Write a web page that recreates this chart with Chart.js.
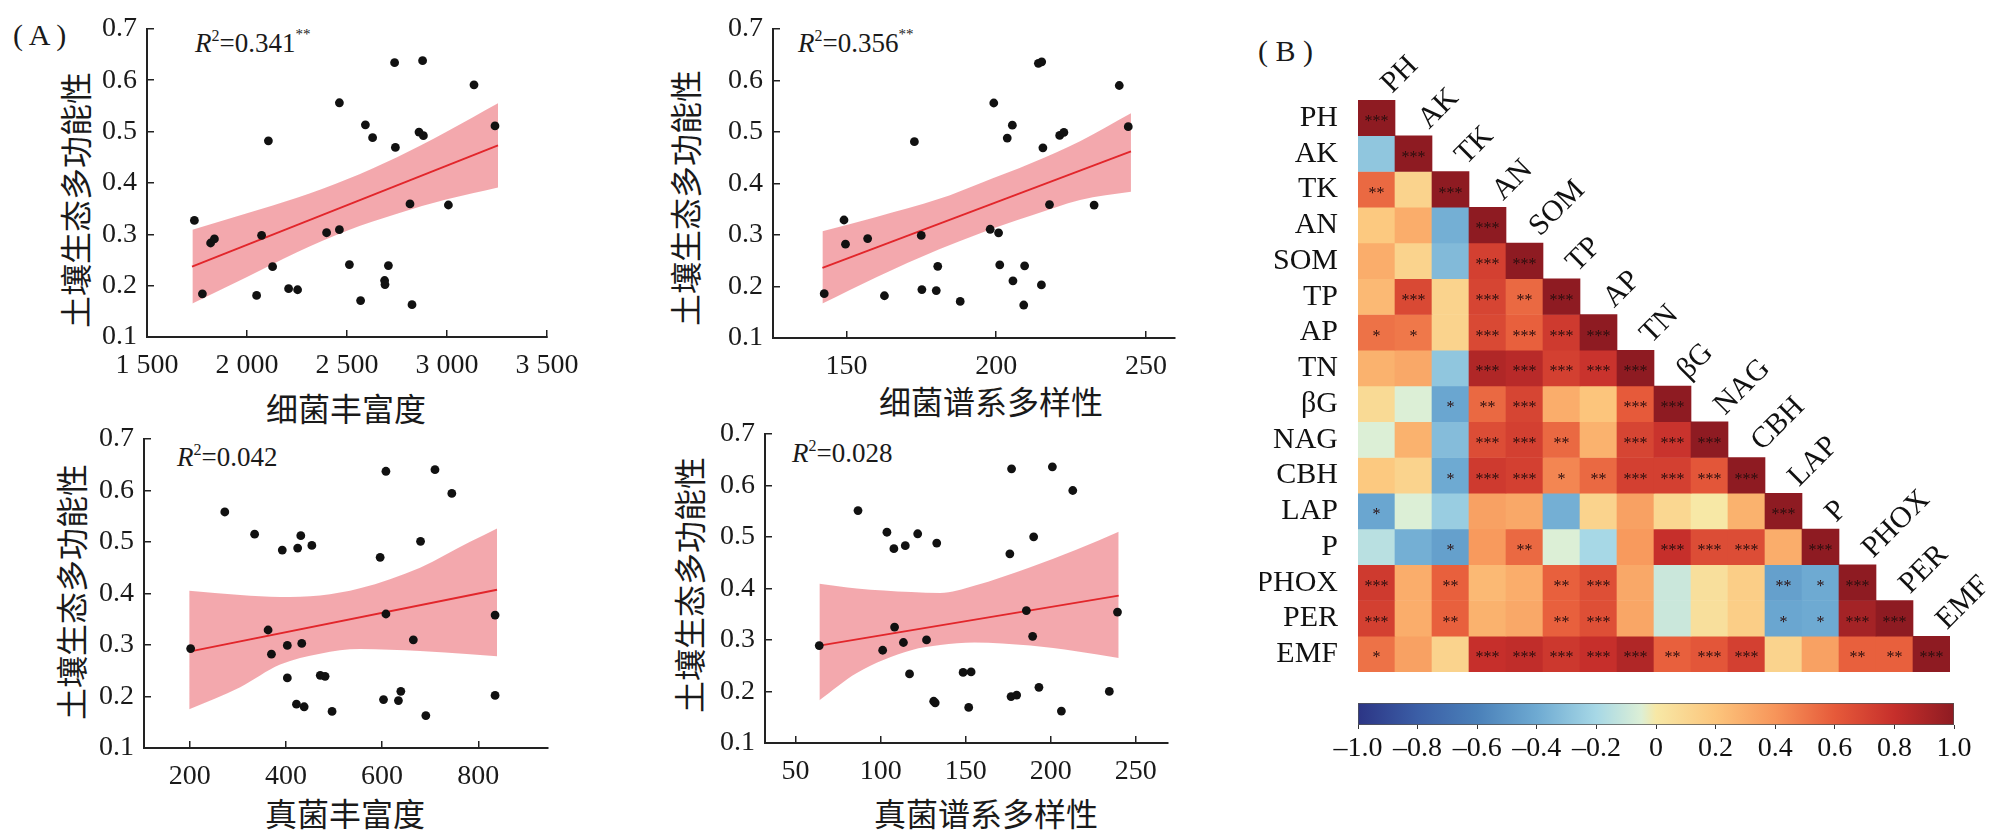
<!DOCTYPE html>
<html><head><meta charset="utf-8">
<script src="https://cdn.jsdelivr.net/npm/chart.js@4.4.0/dist/chart.umd.min.js"></script>
<style>
html,body{margin:0;padding:0;background:#fff;}
#wrap{position:relative;width:1994px;height:835px;overflow:hidden;background:#fff;}
canvas{position:absolute;}
.t{position:absolute;white-space:nowrap;color:#1a1a1a;line-height:1;}
.cjk{font-family:"Noto Sans CJK SC","Liberation Serif",serif;font-size:32px;}
.yt{transform:translate(-50%,-50%) rotate(-90deg);}
.xt{transform:translate(-50%,-50%);}
.r2{font-family:"Liberation Serif",serif;font-size:27px;}
.r2 sup{font-size:16px;vertical-align:baseline;position:relative;top:-11px;}
.r2 sup.st{font-size:15px;top:-13px;}
.lab{font-family:"Liberation Serif",serif;font-size:30px;}
</style></head>
<body><div id="wrap">
<div class="t lab" style="left:13px;top:20px">( A )</div>
<div class="t lab" style="left:1258px;top:36px">( B )</div>

<div class="t r2" style="left:195px;top:30px"><i>R</i><sup>2</sup>=0.341<sup class="st">**</sup></div>
<div class="t r2" style="left:798px;top:30px"><i>R</i><sup>2</sup>=0.356<sup class="st">**</sup></div>
<div class="t r2" style="left:177px;top:444px"><i>R</i><sup>2</sup>=0.042</div>
<div class="t r2" style="left:792px;top:440px"><i>R</i><sup>2</sup>=0.028</div>

<div class="t cjk yt" style="left:74px;top:200px">土壤生态多功能性</div>
<div class="t cjk yt" style="left:684px;top:198px">土壤生态多功能性</div>
<div class="t cjk yt" style="left:70px;top:592px">土壤生态多功能性</div>
<div class="t cjk yt" style="left:688px;top:585px">土壤生态多功能性</div>

<div class="t cjk xt" style="left:346px;top:407px">细菌丰富度</div>
<div class="t cjk xt" style="left:991px;top:400px">细菌谱系多样性</div>
<div class="t cjk xt" style="left:345px;top:812px">真菌丰富度</div>
<div class="t cjk xt" style="left:986px;top:812px">真菌谱系多样性</div>
</div>
<script>
// ---------------- DATA ----------------
const Y_TICKS = [0.1, 0.2, 0.3, 0.4, 0.5, 0.6, 0.7];

// Panel 1: bacterial richness vs soil EMF
const P1_XTICKS = [1500, 2000, 2500, 3000, 3500];
const P1_X = [1737,1777,1818,1837,2048,2073,2107,2128,2208,2253,2398,2462,2462,2512,2568,2592,2628,2688,2690,2707,2742,2738,2815,2825,2860,2882,2878,3007,3135,3240];
const P1_Y = [0.327,0.184,0.283,0.291,0.181,0.298,0.482,0.237,0.194,0.192,0.303,0.309,0.556,0.241,0.171,0.513,0.488,0.210,0.202,0.239,0.469,0.634,0.359,0.163,0.499,0.492,0.638,0.357,0.591,0.511];
const P1_FIT_X = [1725, 3255];
const P1_FIT_Y = [0.237, 0.473];
const P1_BAND_X = [1727, 2000, 2250, 2500, 2750, 3000, 3255];
const P1_BAND_HI = [0.309, 0.341, 0.371, 0.407, 0.450, 0.500, 0.555];
const P1_BAND_LO = [0.165, 0.217, 0.265, 0.307, 0.340, 0.368, 0.391];

// Panel 2: bacterial phylogenetic diversity
const P2_XTICKS = [150, 200, 250];
const P2_X = [142.6,149.2,149.7,157.1,162.7,172.7,175.0,175.2,180.0,180.5,188.0,199.2,198.0,200.8,201.2,205.4,203.7,205.6,209.2,209.5,214.1,215.2,215.1,215.6,217.8,221.2,222.6,232.7,241.1,244.1];
const P2_Y = [0.186,0.329,0.282,0.293,0.182,0.481,0.299,0.194,0.192,0.239,0.171,0.556,0.311,0.304,0.242,0.513,0.488,0.211,0.164,0.240,0.633,0.636,0.203,0.469,0.359,0.493,0.499,0.358,0.590,0.510];
const P2_FIT_X = [142, 245];
const P2_FIT_Y = [0.236, 0.462];
const P2_BAND_X = [142, 160, 181, 194.5, 212, 228, 245];
const P2_BAND_HI = [0.307, 0.335, 0.370, 0.400, 0.440, 0.482, 0.536];
const P2_BAND_LO = [0.167, 0.218, 0.272, 0.303, 0.338, 0.368, 0.384];

// Panel 3: fungal richness
const P3_XTICKS = [200, 400, 600, 800];
const P3_X = [273,335,392.5,424.5,431,454,608,596,680,710,745,202,363,403,433,608,665,370,403,422,438,471.5,481.5,496,603,634,639,691,835,835];
const P3_Y = [0.558,0.515,0.484,0.488,0.512,0.493,0.637,0.470,0.501,0.640,0.594,0.293,0.329,0.299,0.303,0.360,0.310,0.282,0.236,0.185,0.180,0.241,0.239,0.171,0.194,0.192,0.210,0.163,0.358,0.202];
const P3_FIT_X = [199, 839];
const P3_FIT_Y = [0.287, 0.407];
const P3_BAND_X = [199, 305, 388, 471, 554, 679, 783, 839];
const P3_BAND_HI = [0.405, 0.397, 0.393, 0.396, 0.410, 0.450, 0.500, 0.526];
const P3_BAND_LO = [0.175, 0.218, 0.262, 0.283, 0.292, 0.288, 0.282, 0.278];

// Panel 4: fungal phylogenetic diversity
const P4_XTICKS = [50, 100, 150, 200, 250];
const P4_X = [63.9,86.7,103.7,107.8,114.5,121.8,133.0,108.2,113.4,101.2,127.0,117.0,131.2,132.1,148.5,153.2,151.8,176.7,180.0,185.7,189.4,193.1,206.3,234.5,239.3,177,201,213,190,176];
const P4_Y = [0.289,0.551,0.509,0.477,0.483,0.506,0.488,0.325,0.295,0.280,0.300,0.234,0.181,0.178,0.237,0.238,0.169,0.190,0.193,0.357,0.307,0.208,0.162,0.200,0.354,0.632,0.636,0.590,0.500,0.467];
const P4_FIT_X = [64, 240];
const P4_FIT_Y = [0.289, 0.386];
const P4_BAND_X = [64, 86, 118, 135, 155, 188, 215, 240];
const P4_BAND_HI = [0.409, 0.400, 0.393, 0.391, 0.405, 0.441, 0.475, 0.510];
const P4_BAND_LO = [0.183, 0.236, 0.280, 0.290, 0.295, 0.289, 0.278, 0.265];

// Heatmap (B): correlation matrix (lower triangle) and significance marks
const HM_VARS = ['PH','AK','TK','AN','SOM','TP','AP','TN','βG','NAG','CBH','LAP','P','PHOX','PER','EMF'];
const HM_R = [
  [1],
  [-0.28, 1],
  [0.55, 0.12, 1],
  [0.18, 0.30, -0.38, 1],
  [0.30, 0.12, -0.33, 0.72, 1],
  [0.25, 0.68, 0.12, 0.70, 0.55, 1],
  [0.52, 0.50, 0.12, 0.68, 0.58, 0.75, 1],
  [0.28, 0.32, -0.28, 0.88, 0.85, 0.72, 0.78, 1],
  [0.08, -0.05, -0.42, 0.55, 0.70, 0.30, 0.20, 0.60, 1],
  [-0.05, 0.28, -0.32, 0.66, 0.72, 0.55, 0.28, 0.70, 0.78, 1],
  [0.18, 0.12, -0.40, 0.75, 0.72, 0.45, 0.55, 0.72, 0.72, 0.62, 1],
  [-0.42, -0.05, -0.25, 0.35, 0.32, -0.38, 0.12, 0.35, 0.10, 0.00, 0.28, 1],
  [-0.15, -0.38, -0.45, 0.38, 0.55, -0.05, -0.20, 0.38, 0.80, 0.66, 0.66, 0.30, 1],
  [0.75, 0.30, 0.58, 0.25, 0.30, 0.58, 0.65, 0.32, -0.10, 0.05, 0.15, -0.45, -0.40, 1],
  [0.72, 0.30, 0.58, 0.28, 0.32, 0.58, 0.65, 0.33, -0.10, 0.05, 0.15, -0.42, -0.40, 0.92, 1],
  [0.52, 0.35, 0.12, 0.80, 0.82, 0.76, 0.80, 0.88, 0.58, 0.62, 0.72, 0.12, 0.35, 0.58, 0.58, 1]
];
const HM_SIG = [
  ['***'],
  ['','***'],
  ['**','','***'],
  ['','','','***'],
  ['','','','***','***'],
  ['','***','','***','**','***'],
  ['*','*','','***','***','***','***'],
  ['','','','***','***','***','***','***'],
  ['','','*','**','***','','','***','***'],
  ['','','','***','***','**','','***','***','***'],
  ['','','*','***','***','*','**','***','***','***','***'],
  ['*','','','','','','','','','','','***'],
  ['','','*','','**','','','','***','***','***','','***'],
  ['***','','**','','','**','***','','','','','**','*','***'],
  ['***','','**','','','**','***','','','','','*','*','***','***'],
  ['*','','','***','***','***','***','***','**','***','***','','','**','**','***']
];
const CB_TICKS = [-1, -0.8, -0.6, -0.4, -0.2, 0, 0.2, 0.4, 0.6, 0.8, 1];

// ---------------- STYLE ----------------
const CMAP = [[-1,'#2c3585'],[-0.8,'#3b5ea6'],[-0.6,'#4a80b9'],[-0.4,'#6eaad2'],[-0.2,'#a7d8e6'],[-0.05,'#dcefd6'],[0,'#f7e8a6'],[0.2,'#fcc57c'],[0.4,'#f7955a'],[0.6,'#e65a3a'],[0.8,'#c62f2b'],[1,'#8e1b22']];
function hex2rgb(h){return [parseInt(h.substr(1,2),16),parseInt(h.substr(3,2),16),parseInt(h.substr(5,2),16)];}
function colorOf(v){
  for(let i=0;i<CMAP.length-1;i++){
    const [a,ca]=CMAP[i],[b,cb]=CMAP[i+1];
    if(v>=a && v<=b){
      const t=(v-a)/(b-a); const A=hex2rgb(ca),B=hex2rgb(cb);
      return 'rgb('+A.map((x,k)=>Math.round(x+(B[k]-x)*t)).join(',')+')';
    }
  }
  return CMAP[CMAP.length-1][1];
}
const wrap = document.getElementById('wrap');
const AX = '#222';
const SERIF = 'Liberation Serif';
Chart.defaults.font.family = SERIF;

function mkCanvas(x0,y0,w,h){
  const cv=document.createElement('canvas');
  cv.width=w;cv.height=h;cv.style.left=x0+'px';cv.style.top=y0+'px';
  cv.style.width=w+'px';cv.style.height=h+'px';
  wrap.appendChild(cv);return cv;
}
function pts(xs,ys){return xs.map((x,i)=>({x:x,y:ys[i]}));}
function thou(v){return String(v).replace(/\B(?=(\d{3})+(?!\d))/g,' ');}

function scatterPanel(o){
  const cv=mkCanvas(o.x0,o.y0,o.w,o.h);
  const wY=o.l-o.x0, pt=o.t-o.y0, pr=o.x0+o.w-o.r, hX=o.y0+o.h-o.b;
  return new Chart(cv,{
    type:'scatter',
    data:{datasets:[
      {data:pts(o.px,o.py),pointRadius:4.4,pointHoverRadius:4.4,backgroundColor:'#111',borderWidth:0},
      {type:'line',data:pts(o.fx,o.fy),pointRadius:0,borderColor:'#e2262b',borderWidth:1.9,fill:false},
      {type:'line',data:pts(o.bx,o.bhi),pointRadius:0,borderWidth:0,borderColor:'rgba(0,0,0,0)',cubicInterpolationMode:'monotone',fill:false},
      {type:'line',data:pts(o.bx,o.blo),pointRadius:0,borderWidth:0,borderColor:'rgba(0,0,0,0)',cubicInterpolationMode:'monotone',fill:'-1',backgroundColor:'rgba(239,134,141,0.72)'}
    ]},
    options:{
      responsive:false,animation:false,devicePixelRatio:1,
      layout:{padding:{left:0,top:pt,right:pr,bottom:0}},
      plugins:{legend:{display:false},tooltip:{enabled:false}},
      scales:{
        x:{type:'linear',min:o.xMin,max:o.xMax,afterFit:s=>{s.height=hX;},
           afterBuildTicks:s=>{s.ticks=o.xTicks.map(v=>({value:v}));},
           ticks:{autoSkip:false,maxRotation:0,padding:19,color:'#1a1a1a',font:{family:SERIF,size:28},callback:o.xFmt},
           grid:{drawOnChartArea:false,tickLength:-7,color:AX,lineWidth:1.5},
           border:{color:AX,width:2}},
        y:{type:'linear',min:0.1,max:0.7,afterFit:s=>{s.width=wY;},
           afterBuildTicks:s=>{s.ticks=Y_TICKS.map(v=>({value:v}));},
           ticks:{autoSkip:false,padding:17,color:'#1a1a1a',font:{family:SERIF,size:28},callback:v=>v.toFixed(1)},
           grid:{drawOnChartArea:false,tickLength:-7,color:AX,lineWidth:1.5},
           border:{color:AX,width:2}}
      }
    }
  });
}

scatterPanel({x0:85,y0:-5,w:520,h:392,l:147,r:547,t:17,b:337,xMin:1500,xMax:3500,xTicks:P1_XTICKS,xFmt:v=>thou(v),
  px:P1_X,py:P1_Y,fx:P1_FIT_X,fy:P1_FIT_Y,bx:P1_BAND_X,bhi:P1_BAND_HI,blo:P1_BAND_LO});
scatterPanel({x0:711,y0:-5,w:520,h:393,l:773,r:1175,t:15,b:338,xMin:125.5,xMax:259.7,xTicks:P2_XTICKS,xFmt:v=>String(v),
  px:P2_X,py:P2_Y,fx:P2_FIT_X,fy:P2_FIT_Y,bx:P2_BAND_X,bhi:P2_BAND_HI,blo:P2_BAND_LO});
scatterPanel({x0:82,y0:405,w:520,h:393,l:144,r:548,t:427,b:748,xMin:105,xMax:945,xTicks:P3_XTICKS,xFmt:v=>String(v),
  px:P3_X,py:P3_Y,fx:P3_FIT_X,fy:P3_FIT_Y,bx:P3_BAND_X,bhi:P3_BAND_HI,blo:P3_BAND_LO});
scatterPanel({x0:703,y0:400,w:520,h:393,l:765,r:1168,t:421,b:743,xMin:32,xMax:269,xTicks:P4_XTICKS,xFmt:v=>String(v),
  px:P4_X,py:P4_Y,fx:P4_FIT_X,fy:P4_FIT_Y,bx:P4_BAND_X,bhi:P4_BAND_HI,blo:P4_BAND_LO});

// ---------------- HEATMAP ----------------
(function(){
  const n=HM_VARS.length;
  const x0=1260,y0=40,w=734,h=662;
  const L=1358,R=1950,T=100,B=692;
  const cv=mkCanvas(x0,y0,w,h);
  const datasets=HM_VARS.map((rn,r)=>({
    label:rn,
    data:HM_VARS.map((c,j)=>j<=r?[n-1-r,n-r]:null),
    backgroundColor:HM_VARS.map((c,j)=>j<=r?colorOf(HM_R[r][j]):'rgba(0,0,0,0)'),
    grouped:false,barPercentage:1,categoryPercentage:1,borderWidth:0
  }));
  const marks={
    id:'marks',
    afterDatasetsDraw(chart){
      const ctx=chart.ctx,xs=chart.scales.x,ys=chart.scales.y,a=chart.chartArea;
      const cw=(a.right-a.left)/n;
      ctx.save();
      ctx.font='16px "Liberation Serif"';ctx.fillStyle='#2a0e0e';ctx.textAlign='center';ctx.textBaseline='middle';
      HM_SIG.forEach((row,r)=>row.forEach((s,j)=>{
        if(!s)return;
        ctx.fillText(s,xs.getPixelForValue(j),ys.getPixelForValue(n-0.5-r)+4);
      }));
      ctx.font='30px "Liberation Serif"';ctx.fillStyle='#111';ctx.textAlign='left';ctx.textBaseline='alphabetic';
      HM_VARS.forEach((v,j)=>{
        const right=xs.getPixelForValue(j)+cw/2, top=ys.getPixelForValue(n-j);
        ctx.save();ctx.translate(right-3,top-6);ctx.rotate(-Math.PI/4);ctx.fillText(v,0,0);ctx.restore();
      });
      ctx.restore();
    }
  };
  new Chart(cv,{
    type:'bar',
    data:{labels:HM_VARS,datasets:datasets},
    options:{
      responsive:false,animation:false,devicePixelRatio:1,
      layout:{padding:{left:0,top:T-y0,right:x0+w-R,bottom:y0+h-B}},
      plugins:{legend:{display:false},tooltip:{enabled:false}},
      scales:{
        x:{display:false},
        y:{type:'linear',min:0,max:n,afterFit:s=>{s.width=L-x0;},
           afterBuildTicks:s=>{s.ticks=HM_VARS.map((v,i)=>({value:n-0.5-i}));},
           ticks:{autoSkip:false,padding:12,color:'#111',font:{family:SERIF,size:30},callback:v=>HM_VARS[Math.round(n-0.5-v)]},
           grid:{display:false},border:{display:false}}
      }
    },
    plugins:[marks]
  });
})();

// ---------------- COLOR BAR ----------------
(function(){
  const x0=1300,y0=688,w=694,h=100;
  const L=1358,R=1954,T=703,B=725;
  const cmin=CB_TICKS[0], cmax=CB_TICKS[CB_TICKS.length-1];
  const cv=mkCanvas(x0,y0,w,h);
  function grad(chart){
    const a=chart.chartArea; if(!a)return '#fff';
    const g=chart.ctx.createLinearGradient(a.left,0,a.right,0);
    CMAP.forEach(([v,c])=>g.addColorStop((v-cmin)/(cmax-cmin),c));
    return g;
  }
  new Chart(cv,{
    type:'bar',
    data:{labels:[''],datasets:[{data:[[cmin,cmax]],backgroundColor:c=>grad(c.chart),borderColor:'#555',borderWidth:1,borderSkipped:false,barPercentage:1,categoryPercentage:1}]},
    options:{
      indexAxis:'y',responsive:false,animation:false,devicePixelRatio:1,
      layout:{padding:{left:L-x0,top:T-y0,right:x0+w-R,bottom:0}},
      plugins:{legend:{display:false},tooltip:{enabled:false}},
      scales:{
        x:{type:'linear',min:cmin,max:cmax,afterFit:s=>{s.height=y0+h-B;},
           afterBuildTicks:s=>{s.ticks=CB_TICKS.map(v=>({value:v}));},
           ticks:{autoSkip:false,maxRotation:0,padding:3,color:'#111',font:{family:SERIF,size:28},
             callback:v=>Math.abs(v)<1e-9?'0':(v<0?'–':'')+Math.abs(v).toFixed(1)},
           grid:{drawOnChartArea:false,tickLength:4,color:'#333',lineWidth:1},
           border:{display:false}},
        y:{display:false}
      }
    }
  });
})();
</script>
</body></html>
